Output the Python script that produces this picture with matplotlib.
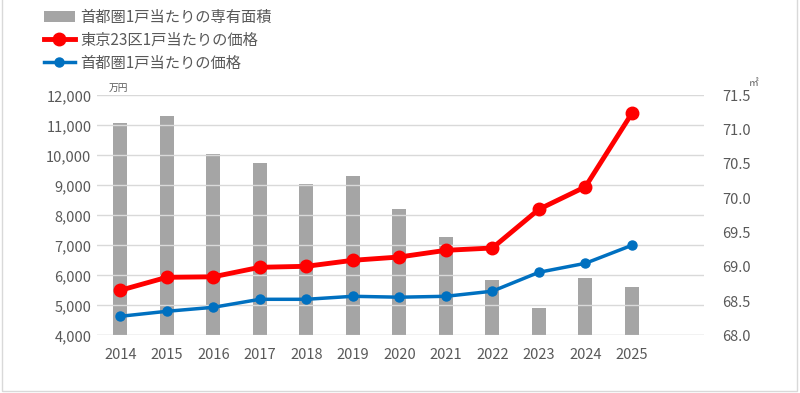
import matplotlib
matplotlib.use("Agg")
import numpy as np
import matplotlib.pyplot as plt
from matplotlib.patches import Rectangle
from matplotlib.ticker import FuncFormatter

plt.rcParams['font.family'] = ['Noto Sans CJK JP', 'DejaVu Sans']

# Data
years = ['2014', '2015', '2016', '2017', '2018', '2019',
         '2020', '2021', '2022', '2023', '2024', '2025']
area_m2 = [71.09, 71.20, 70.64, 70.51, 70.21, 70.33,
           69.84, 69.44, 68.81, 68.40, 68.83, 68.70]
price_tokyo23 = [5500, 5933, 5950, 6267, 6300, 6500,
                 6610, 6833, 6910, 8200, 8950, 11400]
price_shutoken = [4633, 4800, 4933, 5200, 5200, 5300,
                  5270, 5300, 5470, 6100, 6400, 7000]

label_area = '首都圏1戸当たりの専有面積'
label_tokyo = '東京23区1戸当たりの価格'
label_shuto = '首都圏1戸当たりの価格'

tick_col = '#595959'
grid_col = '#D9D9D9'

fig = plt.figure(figsize=(8, 3.93), dpi=100)
ax = fig.add_axes([97 / 800, 1 - 335.3 / 393, (704 - 97) / 800, (335.3 - 95.3) / 393])
ax2 = ax.twinx()

x = np.arange(len(years))

# bars on secondary axis (drawn behind lines)
ax2.bar(x, area_m2, width=0.3, color='#A5A5A5', label=label_area, zorder=1)
ax2.set_ylim(68.0, 71.5)
ax2.set_yticks(np.arange(68.0, 71.51, 0.5))
ax2.yaxis.set_major_formatter(FuncFormatter(lambda v, p: f'{v:.1f}'))

ax.set_zorder(ax2.get_zorder() + 1)
ax.patch.set_visible(False)

ax.plot(x, price_tokyo23, color='#FF0000', lw=3.5, marker='o', ms=9,
        label=label_tokyo, zorder=3)
ax.plot(x, price_shutoken, color='#0070C0', lw=2.5, marker='o', ms=6.5,
        label=label_shuto, zorder=3)
ax.set_ylim(4000, 12000)
ax.set_yticks(np.arange(4000, 12001, 1000))
ax.yaxis.set_major_formatter(FuncFormatter(lambda v, p: f'{int(v):,}'))
ax.set_xlim(-0.5, 12.55)
ax.set_xticks(x)
ax.set_xticklabels(years)

ax2.grid(False)
for yv in range(5000, 12001, 1000):
    ax.axhline(yv, color=grid_col, lw=1, zorder=0)
ax.axhline(4000, color='#BFBFBF', lw=1, zorder=0)

for a in (ax, ax2):
    for s in a.spines.values():
        s.set_visible(False)
    a.tick_params(length=0, labelsize=10.5, colors=tick_col)
ax.tick_params(axis='x', pad=9)
ax.tick_params(axis='y', pad=4)
ax2.tick_params(axis='y', pad=13)

# unit labels
fig.text(109 / 800, 1 - 91 / 393, '万円', fontsize=7, color=tick_col, va='baseline')
fig.text(749 / 800, 1 - 86 / 393, '㎡', fontsize=7, color=tick_col, va='baseline')

# legend
h1, l1 = ax2.get_legend_handles_labels()
h2, l2 = ax.get_legend_handles_labels()
leg = fig.legend(h1 + h2, l1 + l2, loc='upper left', bbox_to_anchor=(44 / 800, 1 - 9 / 393),
                 frameon=False, fontsize=11, labelcolor=tick_col, handlelength=2.0,
                 handletextpad=0.35, labelspacing=0.38, borderaxespad=0,
                 borderpad=0)

# chart border
fig.patches.append(Rectangle((2 / 800, 2 / 393), 795 / 800, 395 / 393,
                             transform=fig.transFigure, fill=False,
                             edgecolor='#D9D9D9', lw=1))

fig.savefig('out.png', dpi=100)
